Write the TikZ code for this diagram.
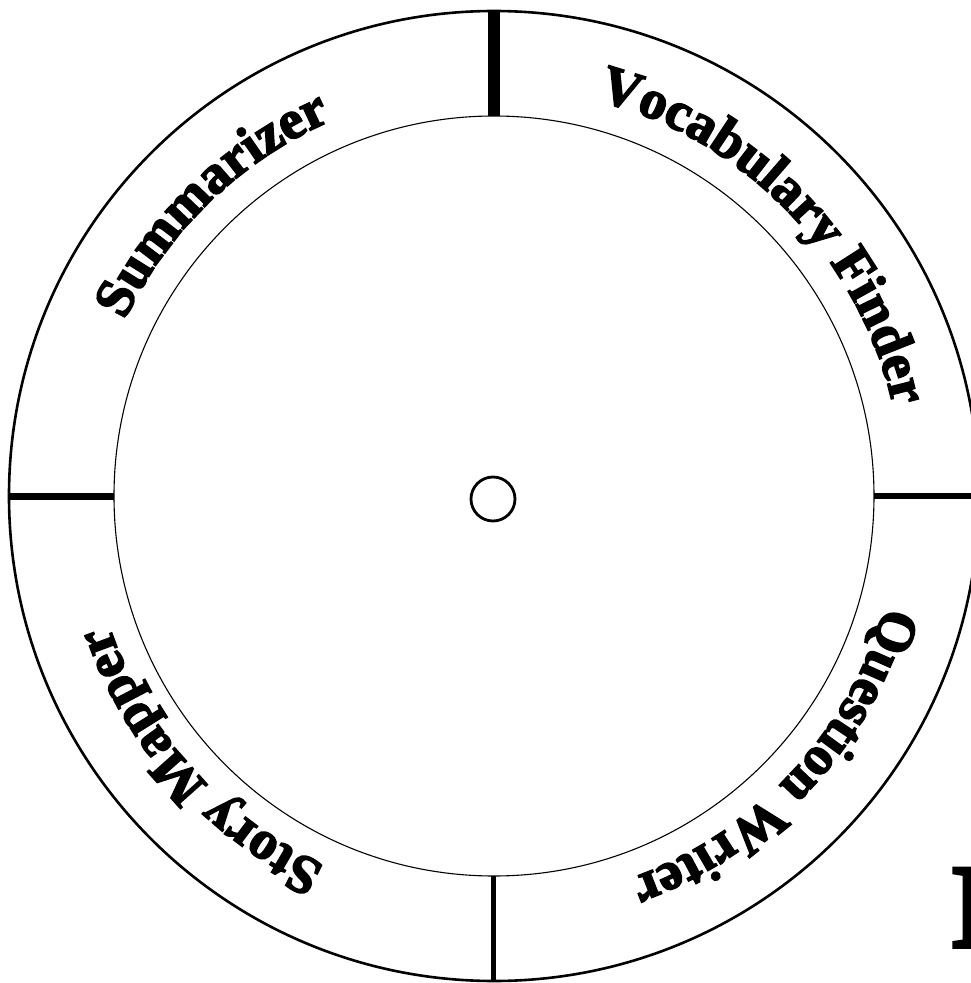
\documentclass[tikz,border=0pt]{standalone}
\usepackage{fontspec}
\setmainfont{Liberation Serif}
\newfontfamily\heavy{Liberation Serif}[BoldFeatures={FakeBold=3}]
\usetikzlibrary{decorations.text}
\newcommand\wheellabelfont{\heavy\bfseries\fontsize{55}{55}\selectfont}
\begin{document}
\begin{tikzpicture}[x=1pt,y=1pt,
  ring/.style={circle, draw, inner sep=0pt, outer sep=0pt},
  arctext/.style={decorate, decoration={text along path, text align=center, text={|\wheellabelfont|#1}}}
]
\useasboundingbox (-494,-487) rectangle (477,496);
\node[ring, minimum size=970pt, line width=2.6pt] (outer) at (0,0) {};
\node[ring, minimum size=760pt, line width=1.1pt] (inner) at (0,0) {};
\node[ring, minimum size=44pt, line width=2.8pt] (hub) at (-1,-3) {};
\draw[line width=12pt] (outer.north) -- (inner.north);
\draw[line width=6pt] (outer.east) -- (inner.east);
\draw[line width=7pt] (outer.west) -- (inner.west);
\draw[line width=5pt] (outer.south) -- (inner.south);
\path[arctext=Summarizer] (178:409) arc[start angle=178, end angle=90, radius=409];
\path[arctext=Vocabulary Finder] (88:409) arc[start angle=88, end angle=0, radius=409];
\path[arctext=Question Writer] (1:406) arc[start angle=1, end angle=-87, radius=406];
\path[arctext=Story Mapper] (266:406) arc[start angle=266, end angle=178, radius=406];
\node[anchor=base west, inner sep=0pt, font=\heavy\bfseries\fontsize{120}{120}\selectfont] (letter) at (456,-451) {I};
\end{tikzpicture}
\end{document}
